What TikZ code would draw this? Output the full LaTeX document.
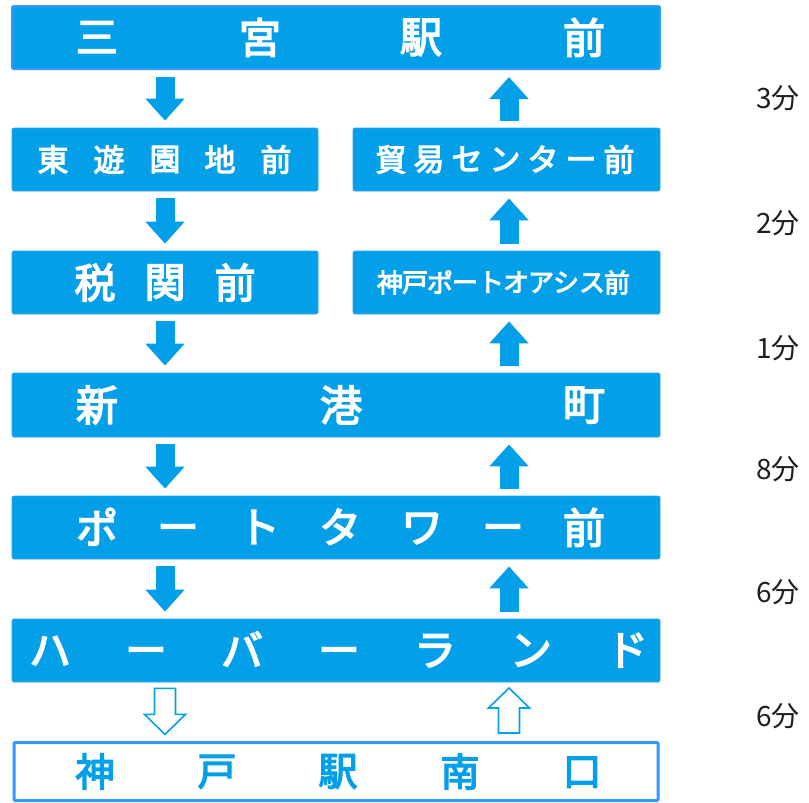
\documentclass[tikz,border=0pt]{standalone}
\usepackage{fontspec}
\newfontfamily\jp{Noto Sans CJK JP}
\newfontfamily\jpm{Noto Sans CJK JP}[FakeBold=3.5]
\usetikzlibrary{arrows.meta,calc}
\definecolor{fillb}{RGB}{3,160,233}
\definecolor{edgeb}{RGB}{51,153,255}
\definecolor{thinb}{RGB}{40,168,240}
\definecolor{txtd}{RGB}{30,30,30}
\tikzset{
  box/.style={rectangle, rounded corners=2pt, fill=fillb, draw=thinb, line width=0.8pt, inner sep=0pt},
  topbox/.style={box, draw=edgeb, line width=2pt},
  endbox/.style={rectangle, rounded corners=1pt, fill=white, draw=edgeb, line width=3pt, inner sep=0pt},
  chr/.style={text=white, inner sep=0pt, font=\jpm\fontsize{#1}{#1}\selectfont},
  chrb/.style={text=fillb, inner sep=0pt, font=\jpm\fontsize{#1}{#1}\selectfont},
  farrow/.style={draw=fillb, line width=19pt, -{Triangle[width=38pt,length=22pt]}, shorten <=7pt, shorten >=7pt},
  oarrow/.style={draw=fillb, line width=1.6pt, fill=white, line join=miter},
  tlabel/.style={text=txtd, inner sep=0pt, anchor=east, font=\jp\fontsize{28}{28}\selectfont}
}
\begin{document}
\begin{tikzpicture}[x=1pt,y=-1pt]
\useasboundingbox (0,0) rectangle (809,803);
% boxes
\node[topbox, minimum width=648pt, minimum height=63pt] (b1) at (336,37.5) {};
\node[box, minimum width=306pt, minimum height=63pt] (b2) at (165,159.5) {};
\node[box, minimum width=307pt, minimum height=63pt] (b3) at (506.5,159.5) {};
\node[box, minimum width=306pt, minimum height=63pt] (b4) at (165,282.5) {};
\node[box, minimum width=307pt, minimum height=63pt] (b5) at (506.5,282.5) {};
\node[box, minimum width=648pt, minimum height=64pt] (b6) at (336,405) {};
\node[box, minimum width=648pt, minimum height=63pt] (b7) at (336,527.5) {};
\node[box, minimum width=648pt, minimum height=63pt] (b8) at (336,650.5) {};
\node[endbox, minimum width=644pt, minimum height=58pt] (b9) at (336,771.5) {};
% texts
\foreach \ch/\x [count=\i] in {三/97,宮/260,駅/421,前/584}
  \node[chr=42] (t1-\i) at (\x,37.5) {\vphantom{国}\ch};
\foreach \ch/\x [count=\i] in {東/53,遊/109,園/165,地/220,前/276}
  \node[chr=31] (t2-\i) at (\x,159.5) {\vphantom{国}\ch};
\foreach \ch/\x [count=\i] in {貿/391,易/429,セ/467,ン/505,タ/543,ー/581,前/619}
  \node[chr=31] (t3-\i) at (\x,159.5) {\vphantom{国}\ch};
\foreach \ch/\x [count=\i] in {税/95,関/165,前/235}
  \node[chr=41] (t4-\i) at (\x,282.5) {\vphantom{国}\ch};
\foreach \ch/\x [count=\i] in {神/390,戸/415,ポ/440,ー/465,ト/491,オ/516,ア/541,シ/566,ス/592,前/617}
  \node[chr=26] (t5-\i) at (\x,282.5) {\vphantom{国}\ch};
\foreach \ch/\x [count=\i] in {新/97,港/341,町/584}
  \node[chr=42] (t6-\i) at (\x,405) {\vphantom{国}\ch};
\foreach \ch/\x [count=\i] in {ポ/97,ー/178,ト/259,タ/340,ワ/422,ー/503,前/584}
  \node[chr=42] (t7-\i) at (\x,527.5) {\vphantom{国}\ch};
\foreach \ch/\x [count=\i] in {ハ/50,ー/146,バ/242,ー/339,ラ/435,ン/531,ド/627}
  \node[chr=42] (t8-\i) at (\x,650.5) {\vphantom{国}\ch};
\foreach \ch/\x [count=\i] in {神/95,戸/217,駅/338,南/460,口/582}
  \node[chrb=39] (t9-\i) at (\x,771.5) {\vphantom{国}\ch};
% filled arrows (down, left column)
\draw[farrow] (b1.south -| b2.north) -- (b2.north);
\draw[farrow] (b2.south) -- (b4.north);
\draw[farrow] (b4.south) -- (b6.north -| b4.south);
\draw[farrow] (b6.south -| b4.south) -- (b7.north -| b4.south);
\draw[farrow] (b7.south -| b4.south) -- (b8.north -| b4.south);
% filled arrows (up, right column)
\draw[farrow] ([xshift=2.5pt]b3.north) -- ([xshift=2.5pt]b1.south -| b3.north);
\draw[farrow] ([xshift=2.5pt]b5.north) -- ([xshift=2.5pt]b3.south);
\draw[farrow] ([xshift=2.5pt]b6.north -| b5.south) -- ([xshift=2.5pt]b5.south);
\draw[farrow] ([xshift=2.5pt]b7.north -| b5.south) -- ([xshift=2.5pt]b6.south -| b5.south);
\draw[farrow] ([xshift=2.5pt]b8.north -| b5.south) -- ([xshift=2.5pt]b7.south -| b5.south);
% outline arrows
\coordinate (da) at ($(b8.south -| b4.south)+(0,6)$);
\draw[oarrow] (da) ++(-10.5,0) -- ++(21,0) -- ++(0,26) -- ++(10,0) -- ++(-20.5,20) -- ++(-20.5,-20) -- ++(10,0) -- cycle;
\coordinate (ua) at ($(b9.north -| b5.south)+(2.5,-8)$);
\draw[oarrow] (ua) ++(-10.5,0) -- ++(0,-25) -- ++(-10,0) -- ++(20.5,-20) -- ++(20.5,20) -- ++(-10,0) -- ++(0,25) -- cycle;
% time labels
\node[tlabel] (m1) at (800,98) {3分};
\node[tlabel] (m2) at (800,223) {2分};
\node[tlabel] (m3) at (800,348) {1分};
\node[tlabel] (m4) at (800,469) {8分};
\node[tlabel] (m5) at (800,592) {6分};
\node[tlabel] (m6) at (800,716) {6分};
\end{tikzpicture}
\end{document}
